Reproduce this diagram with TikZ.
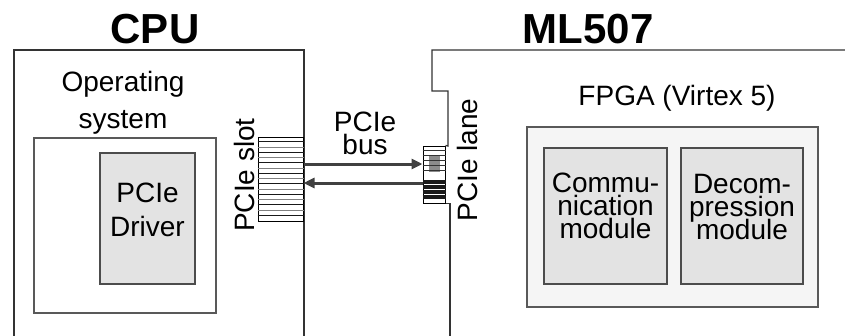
\documentclass[tikz,border=0pt]{standalone}
\usepackage{fontspec}
\setmainfont{Liberation Sans}
\usetikzlibrary{arrows.meta, positioning}

\begin{document}
\begin{tikzpicture}[
    x=1pt, y=-1pt,
    every node/.style={font=\fontsize{28}{36}\selectfont, inner sep=0pt},
    title/.style={font=\fontsize{42}{46}\selectfont\bfseries},
    outer/.style={draw=black!80, line width=1.3pt},
    frame/.style={draw=black!65, line width=2pt, fill=white},
    module/.style={draw=black!70, line width=1.6pt, fill=black!11},
    bus/.style={-{Triangle[length=11pt,width=10pt]}, line width=3pt, draw=black!75},
  ]
  \useasboundingbox (0,0) rectangle (845,335);
  \clip (0,0) rectangle (845,335);

  % CPU side
  \node[title] (cputitle) at (155,29) {CPU};
  \node[outer, minimum width=290pt, minimum height=310pt] (cpu) at (159,205) {};
  \node[frame, minimum width=182pt, minimum height=175pt] (osbox) at (125,225.5) {};
  \node[align=center, font=\fontsize{28}{37}\selectfont] (oslabel) at (123,102.5) {Operating\\system};
  \node[module, minimum width=95pt, minimum height=131pt] (drvbox) at (147.5,218.5) {};
  \node[align=center, font=\fontsize{28}{34}\selectfont] (drvlabel) at (147.5,210) {PCIe\\Driver};

  % PCIe slot
  \node[draw, line width=1pt, fill=white, minimum width=45pt, minimum height=84pt] (slot) at (280.5,179) {};
  \foreach \k in {1,...,15}{
    \pgfmathtruncatemacro{\shade}{mod(\k,2)==0 ? 50 : 90}
    \draw[black!\shade, line width=0.9pt] ([yshift=-\k*5.25pt]slot.north west) -- ([yshift=-\k*5.25pt]slot.north east);
  }
  \node[rotate=90] (slotlabel) at (244,175) {PCIe slot};

  % ML507 side
  \node[title] (mltitle) at (588,29) {ML507};
  \node[draw, line width=1pt, fill=white, minimum width=22pt, minimum height=57pt] (lane) at (434,174.5) {};
  \fill[black!45] ([xshift=6pt, yshift=-9pt]lane.north west) rectangle ([xshift=-6pt, yshift=-26pt]lane.north east);
  \foreach \k in {1,...,5}
    \draw[black!80, line width=0.8pt] ([yshift=-\k*5pt]lane.north west) -- ([yshift=-\k*5pt]lane.north east);
  \foreach \k in {0,...,3}
    \draw[black!90, line width=3.6pt] ([yshift=-36.5pt-\k*5pt]lane.north west) -- ([yshift=-36.5pt-\k*5pt]lane.north east);
  \draw[outer] (lane.north east) -- (448,146) -- (448,91) -- (432,91) -- (432,50) -- (850,50);
  \draw[outer] (lane.south east) -| (450,340);
  \node[rotate=90] (lanelabel) at (467,160) {PCIe lane};

  \node[frame, fill=black!4, minimum width=291pt, minimum height=180pt] (fpga) at (672.5,217) {};
  \node (fpgalabel) at (677,98) {FPGA (Virtex 5)};
  \node[module, minimum width=123pt, minimum height=136pt] (comm) at (605.5,216) {};
  \node[module, minimum width=122pt, minimum height=136pt] (dec) at (742,216) {};
  \node[align=center, font={\fontsize{28}{23}\selectfont\lineskiplimit=-20pt}] (commlabel) at (605.5,206) {Commu-\\nication\\module};
  \node[align=center, font={\fontsize{28}{23}\selectfont\lineskiplimit=-20pt}] (declabel) at (742,207) {Decom-\\pression\\module};

  % PCIe bus
  \node[align=center, font={\fontsize{28}{23}\selectfont\lineskiplimit=-20pt}] (buslabel) at (365,133.5) {PCIe\\bus};
  \coordinate (txS) at ([yshift=15pt]slot.east);
  \draw[bus] (txS) -- (txS -| lane.west);
  \coordinate (rxL) at ([yshift=-8.5pt]lane.west);
  \draw[bus] (rxL) -- (rxL -| slot.east);
\end{tikzpicture}
\end{document}
